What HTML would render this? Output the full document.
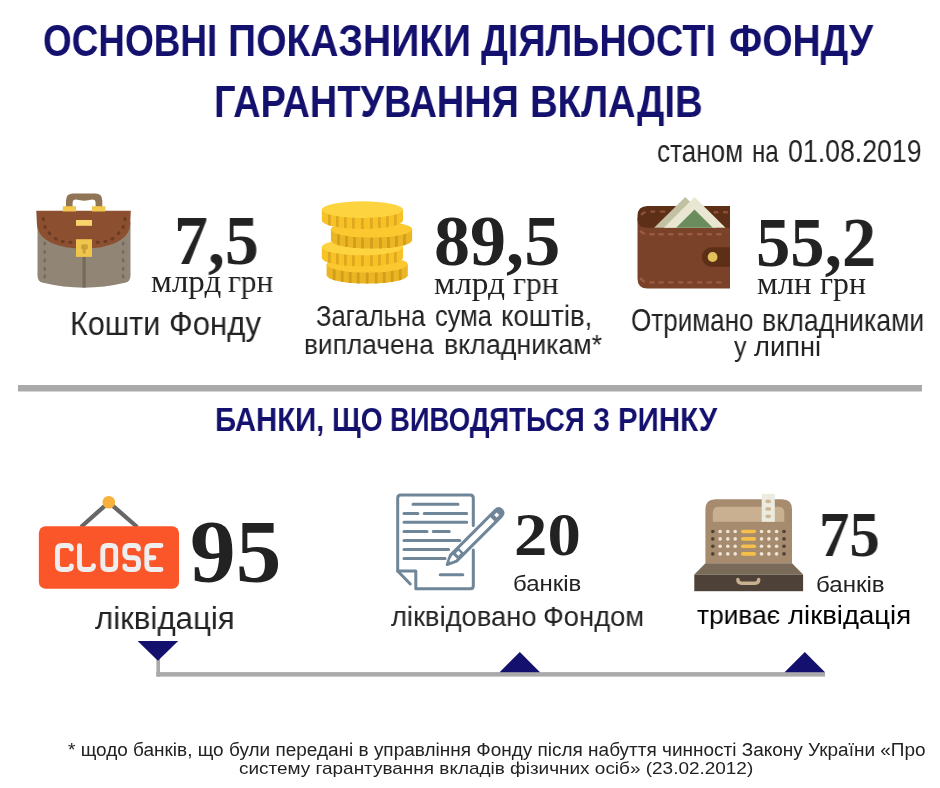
<!DOCTYPE html><html><head><meta charset="utf-8"><style>html,body{margin:0;padding:0;background:#fff;width:940px;height:788px;overflow:hidden;position:relative}.t{position:absolute;white-space:nowrap;line-height:1;transform-origin:0 0;will-change:transform}svg.ic{position:absolute;left:0;top:0}</style></head><body><svg class="ic" width="940" height="788" viewBox="0 0 940 788">
<rect x="18" y="385" width="904" height="6.5" fill="#aaaaaa"/>
<g>
<path fill="#8f7455" fill-rule="evenodd" d="M66,207 V200.5 Q66,193.4 73,193.4 H95.3 Q102.3,193.4 102.3,200.5 V207 Z M72.6,207 V203 Q72.6,199.6 76,199.6 Q84.2,201.8 92.2,199.6 Q95.6,199.6 95.6,203 V207 Z"/>
<path fill="#918576" d="M37.5,222 V276 Q37.5,281.5 43,282.8 Q84,292.5 125,282.8 Q130.5,281.5 130.5,276 V222 Z"/>
<path fill="#8c5030" d="M36.3,210.8 H130.8 L130.2,224 C129.5,241 108,248.6 83.5,248.6 C59,248.6 37.5,241 36.9,224 Z"/>
<ellipse cx="43.3" cy="219.2" rx="2.1" ry="1.5" transform="rotate(90 43.3 219.2)" fill="#6b3a22"/>
<ellipse cx="45.1" cy="226.9" rx="2.1" ry="1.5" transform="rotate(70 45.1 226.9)" fill="#6b3a22"/>
<ellipse cx="49.5" cy="233.2" rx="2.1" ry="1.5" transform="rotate(50 49.5 233.2)" fill="#6b3a22"/>
<ellipse cx="55.8" cy="238.7" rx="2.1" ry="1.5" transform="rotate(35 55.8 238.7)" fill="#6b3a22"/>
<ellipse cx="62.8" cy="241.5" rx="2.1" ry="1.5" transform="rotate(15 62.8 241.5)" fill="#6b3a22"/>
<ellipse cx="70.5" cy="242.2" rx="2.1" ry="1.5" transform="rotate(0 70.5 242.2)" fill="#6b3a22"/>
<ellipse cx="97.7" cy="242.2" rx="2.1" ry="1.5" transform="rotate(0 97.7 242.2)" fill="#6b3a22"/>
<ellipse cx="105.4" cy="241.5" rx="2.1" ry="1.5" transform="rotate(-15 105.4 241.5)" fill="#6b3a22"/>
<ellipse cx="112.4" cy="238.7" rx="2.1" ry="1.5" transform="rotate(-35 112.4 238.7)" fill="#6b3a22"/>
<ellipse cx="118.6" cy="233.2" rx="2.1" ry="1.5" transform="rotate(-50 118.6 233.2)" fill="#6b3a22"/>
<ellipse cx="123.2" cy="226.9" rx="2.1" ry="1.5" transform="rotate(-70 123.2 226.9)" fill="#6b3a22"/>
<ellipse cx="124.9" cy="219.2" rx="2.1" ry="1.5" transform="rotate(-90 124.9 219.2)" fill="#6b3a22"/>
<ellipse cx="44.7" cy="243.6" rx="1.4" ry="2.1" fill="#776b5f"/>
<ellipse cx="123.2" cy="243.6" rx="1.4" ry="2.1" fill="#776b5f"/>
<ellipse cx="44.7" cy="252" rx="1.4" ry="2.1" fill="#776b5f"/>
<ellipse cx="123.2" cy="252" rx="1.4" ry="2.1" fill="#776b5f"/>
<ellipse cx="44.7" cy="260.4" rx="1.4" ry="2.1" fill="#776b5f"/>
<ellipse cx="123.2" cy="260.4" rx="1.4" ry="2.1" fill="#776b5f"/>
<ellipse cx="44.7" cy="268.8" rx="1.4" ry="2.1" fill="#776b5f"/>
<ellipse cx="123.2" cy="268.8" rx="1.4" ry="2.1" fill="#776b5f"/>
<ellipse cx="44.7" cy="276.4" rx="1.4" ry="2.1" fill="#776b5f"/>
<ellipse cx="123.2" cy="276.4" rx="1.4" ry="2.1" fill="#776b5f"/>
<rect x="62.8" y="206.2" width="13.2" height="5.3" fill="#f3c74e"/>
<rect x="92" y="206.2" width="13.4" height="5.3" fill="#f3c74e"/>
<rect x="76" y="220" width="16" height="5.8" fill="#fad36a"/>
<rect x="82.5" y="256" width="3.2" height="31.4" fill="#766a5e"/>
<rect x="76" y="239.2" width="16" height="17.7" fill="#efc54c"/>
<path fill="#c9a13b" d="M81,246 Q81,244.3 82.7,244.3 H86.2 Q87.9,244.3 87.9,246 V248.5 L85.6,250 V253.4 H82.8 V250 L81,248.5 Z"/>
</g>
<g>
<clipPath id="cb4"><path d="M326.59999999999997,264.3 V275.3 A40.6,8.3 0 0 0 407.8,275.3 V264.3 Z"/></clipPath><path d="M326.59999999999997,264.3 V275.3 A40.6,8.3 0 0 0 407.8,275.3 V264.3 Z" fill="#ecb524"/><g clip-path="url(#cb4)" fill="#d19d1d"><rect x="332.84999999999997" y="264.3" width="2.7" height="21.3"/><rect x="340.84999999999997" y="264.3" width="2.7" height="21.3"/><rect x="348.84999999999997" y="264.3" width="2.7" height="21.3"/><rect x="356.84999999999997" y="264.3" width="2.7" height="21.3"/><rect x="365.84999999999997" y="264.3" width="2.7" height="21.3"/><rect x="374.84999999999997" y="264.3" width="2.7" height="21.3"/><rect x="382.84999999999997" y="264.3" width="2.7" height="21.3"/><rect x="390.84999999999997" y="264.3" width="2.7" height="21.3"/><rect x="398.84999999999997" y="264.3" width="2.7" height="21.3"/></g><ellipse cx="367.2" cy="264.3" rx="40.6" ry="8.3" fill="#fbc830"/>
<clipPath id="cb3"><path d="M321.79999999999995,247 V258 A40.6,8.3 0 0 0 403.0,258 V247 Z"/></clipPath><path d="M321.79999999999995,247 V258 A40.6,8.3 0 0 0 403.0,258 V247 Z" fill="#f7c226"/><g clip-path="url(#cb3)" fill="#dea81f"><rect x="328.04999999999995" y="247" width="2.7" height="21.3"/><rect x="336.04999999999995" y="247" width="2.7" height="21.3"/><rect x="344.04999999999995" y="247" width="2.7" height="21.3"/><rect x="352.04999999999995" y="247" width="2.7" height="21.3"/><rect x="361.04999999999995" y="247" width="2.7" height="21.3"/><rect x="370.04999999999995" y="247" width="2.7" height="21.3"/><rect x="378.04999999999995" y="247" width="2.7" height="21.3"/><rect x="386.04999999999995" y="247" width="2.7" height="21.3"/><rect x="394.04999999999995" y="247" width="2.7" height="21.3"/></g><ellipse cx="362.4" cy="247" rx="40.6" ry="8.3" fill="#fdd440"/>
<clipPath id="cb2"><path d="M330.9,229.3 V240.3 A40.6,8.3 0 0 0 412.1,240.3 V229.3 Z"/></clipPath><path d="M330.9,229.3 V240.3 A40.6,8.3 0 0 0 412.1,240.3 V229.3 Z" fill="#ecb524"/><g clip-path="url(#cb2)" fill="#d19d1d"><rect x="337.15" y="229.3" width="2.7" height="21.3"/><rect x="345.15" y="229.3" width="2.7" height="21.3"/><rect x="353.15" y="229.3" width="2.7" height="21.3"/><rect x="361.15" y="229.3" width="2.7" height="21.3"/><rect x="370.15" y="229.3" width="2.7" height="21.3"/><rect x="379.15" y="229.3" width="2.7" height="21.3"/><rect x="387.15" y="229.3" width="2.7" height="21.3"/><rect x="395.15" y="229.3" width="2.7" height="21.3"/><rect x="403.15" y="229.3" width="2.7" height="21.3"/></g><ellipse cx="371.5" cy="229.3" rx="40.6" ry="8.3" fill="#fbc830"/>
<clipPath id="cb1"><path d="M321.79999999999995,209.6 V220.6 A40.6,8.3 0 0 0 403.0,220.6 V209.6 Z"/></clipPath><path d="M321.79999999999995,209.6 V220.6 A40.6,8.3 0 0 0 403.0,220.6 V209.6 Z" fill="#f7c226"/><g clip-path="url(#cb1)" fill="#dea81f"><rect x="328.04999999999995" y="209.6" width="2.7" height="21.3"/><rect x="336.04999999999995" y="209.6" width="2.7" height="21.3"/><rect x="344.04999999999995" y="209.6" width="2.7" height="21.3"/><rect x="352.04999999999995" y="209.6" width="2.7" height="21.3"/><rect x="361.04999999999995" y="209.6" width="2.7" height="21.3"/><rect x="370.04999999999995" y="209.6" width="2.7" height="21.3"/><rect x="378.04999999999995" y="209.6" width="2.7" height="21.3"/><rect x="386.04999999999995" y="209.6" width="2.7" height="21.3"/><rect x="394.04999999999995" y="209.6" width="2.7" height="21.3"/></g><ellipse cx="362.4" cy="209.6" rx="40.6" ry="8.3" fill="#fdd440"/>
</g>
<g>
<path fill="#7a4229" d="M637.5,218 H730 V288.6 H647.5 Q637.5,288.6 637.5,278.6 Z"/>
<path fill="#5e2f17" d="M647.5,206.1 H730 V227.8 H646.5 Q637.5,227.8 637.5,218.8 V216.1 Q637.5,206.1 647.5,206.1 Z"/>
<g stroke="#8e5038" stroke-width="2.4" stroke-linecap="round" fill="none">
<path d="M641.8,214.2 L644.6,212.2 M651.3,211.6 H654 M660.8,211.6 H664.2 M714.6,212.2 H717.4 M724,212.2 H727"/>
</g>
<path fill="#c3c1a4" d="M685.3,197 L716.1,227.8 H654.1 Z"/>
<path fill="#e9e7d2" d="M694.5,197 L725.5,227.8 H663.9 Z"/>
<path fill="#6b8d5d" d="M694.5,209.5 L712.8,227.8 H676.2 Z"/>
<g stroke="#9b5b41" stroke-width="2.4" stroke-linecap="round" fill="none">
<path d="M640.8,231.4 L643.8,233.4 M650.3,234.3 H653.5 M659.5,234.3 H662.7 M669.3,234.3 H672.5 M679.1,234.3 H682.3000000000001 M688.3,234.3 H691.5 M698.1,234.3 H701.3000000000001 M707.7,234.3 H710.9000000000001 M717.3,234.3 H720.5 "/>
<path d="M640.7,278.8 L643.8,281.2 M650.3,282.4 H653.5 M659.5,282.4 H662.7 M669.3,282.4 H672.5 M679.1,282.4 H682.3000000000001 M688.3,282.4 H691.5 M698.1,282.4 H701.3000000000001 M707.7,282.4 H710.9000000000001 M717.3,282.4 H720.5 "/>
</g>
<path fill="#5e2f17" d="M711.7,247.2 H730 V266.8 H711.7 A9.8,9.8 0 0 1 711.7,247.2 Z"/>
<circle cx="712.6" cy="257" r="4.9" fill="#e2c15c"/>
</g>
<g>
<path d="M81,527 L108.8,502.3 L137.2,527" stroke="#676767" stroke-width="4.3" fill="none"/>
<circle cx="108.8" cy="502.3" r="6.3" fill="#f8b13a"/>
<rect x="38.85" y="526.3" width="140.15" height="62.4" rx="6.8" fill="#fa5629"/>
<g stroke="#efeeee" stroke-width="4.9" stroke-linecap="round" stroke-linejoin="round" fill="none">
<path d="M71.4,549 Q71.4,545.5 67,545.5 H61.9 Q57.45,545.5 57.45,550 V565 Q57.45,569.5 61.9,569.5 H67 Q71.4,569.5 71.4,566"/>
<path d="M79.5,545.7 V565 Q79.5,569.5 84,569.5 H89 Q93.5,569.5 93.5,565.8"/>
<path d="M107.3,545.5 H111.2 Q115.7,545.5 115.7,550 V565 Q115.7,569.5 111.2,569.5 H107.3 Q102.8,569.5 102.8,565 V550 Q102.8,545.5 107.3,545.5 Z"/>
<path d="M138.5,549 Q138.5,545.5 134,545.5 H129.3 Q124.8,545.5 124.8,550 V553.3 Q124.8,557.8 129.3,557.8 H134 Q138.5,557.8 138.5,562.3 V565 Q138.5,569.5 134,569.5 H129.3 Q124.8,569.5 124.8,566"/>
<path d="M161,545.5 H151.3 Q146.8,545.5 146.8,550 V565 Q146.8,569.5 151.3,569.5 H161 M146.8,557.8 H154"/>
</g>
</g>
<g stroke="#6f8598" stroke-width="3" stroke-linecap="round" stroke-linejoin="round" fill="none">
<path d="M473.3,525.5 V498 Q473.3,495 470.3,495 H400.7 Q397.7,495 397.7,498 V571 H415.8 V588.7 H470.3 Q473.3,588.7 473.3,585.7 V550"/>
<path d="M397.7,571 L410.3,584"/>
<path d="M413,504.3 H458 M404,513.4 H417.9 M424.2,513.4 H466.7 M404,522.2 H466.7 M404,531.5 H427 M433.3,531.5 H449.3 M404,540.6 H459.8 M404,549.4 H448.6 M404,558.5 H445.1 M440.2,574.8 H462.8 "/>
</g>
<g transform="translate(447.2,564.5) rotate(-45)" stroke="#6f8598" stroke-width="3" stroke-linejoin="round" fill="none">
<path d="M0,0 L9,-4.3 H72 Q77,-4.3 77,0 Q77,4.3 72,4.3 H9 Z"/>
</g>
<g transform="translate(447.2,564.5) rotate(-45)" fill="#6f8598">
<rect x="11" y="-4.3" width="9" height="8.6"/>
<path d="M64,-4.3 H72 Q77.5,-4.3 77.5,0 Q77.5,4.3 72,4.3 H64 Z"/>
<rect x="14" y="-1.8" width="3.6" height="3.6" fill="#fff"/>
<rect x="68.2" y="-1.8" width="3.6" height="3.6" fill="#fff"/>
<path d="M3.5,-0.6 L7.5,-2.2 V2.2 Z" fill="#fff"/>
</g>
<g>
<path fill="#a68b6e" d="M705.4,563.3 V509.2 Q705.4,499.2 715.4,499.2 H782 Q792,499.2 792,509.2 V563.3 Z"/>
<path fill="#c8b090" d="M712.8,521.8 V512.8 Q712.8,506.8 718.8,506.8 H778.3 Q784.3,506.8 784.3,512.8 V521.8 Z"/>
<rect x="761.7" y="493.9" width="13.1" height="27.9" fill="#ecebe0"/>
<ellipse cx="768.2" cy="501.3" rx="2.9" ry="1.9" fill="#cdb896"/>
<ellipse cx="768.2" cy="508.9" rx="2.9" ry="1.9" fill="#cdb896"/>
<ellipse cx="768.2" cy="516.3" rx="2.9" ry="1.9" fill="#cdb896"/>
<circle cx="712.8" cy="531.5" r="1.8" fill="#4e4238"/>
<circle cx="784" cy="531.5" r="1.8" fill="#4e4238"/>
<circle cx="720.1" cy="531.5" r="1.8" fill="#efe6d6"/>
<circle cx="727.8" cy="531.5" r="1.8" fill="#efe6d6"/>
<circle cx="735.2" cy="531.5" r="1.8" fill="#efe6d6"/>
<circle cx="761.5" cy="531.5" r="1.8" fill="#efe6d6"/>
<circle cx="768.9" cy="531.5" r="1.8" fill="#efe6d6"/>
<circle cx="776.6" cy="531.5" r="1.8" fill="#efe6d6"/>
<path d="M742.8,531.5 H754.3" stroke="#f5c04a" stroke-width="3.6" stroke-linecap="round"/>
<circle cx="712.8" cy="538.9" r="1.8" fill="#4e4238"/>
<circle cx="784" cy="538.9" r="1.8" fill="#4e4238"/>
<circle cx="720.1" cy="538.9" r="1.8" fill="#efe6d6"/>
<circle cx="727.8" cy="538.9" r="1.8" fill="#efe6d6"/>
<circle cx="735.2" cy="538.9" r="1.8" fill="#efe6d6"/>
<circle cx="761.5" cy="538.9" r="1.8" fill="#efe6d6"/>
<circle cx="768.9" cy="538.9" r="1.8" fill="#efe6d6"/>
<circle cx="776.6" cy="538.9" r="1.8" fill="#efe6d6"/>
<path d="M742.8,538.9 H754.3" stroke="#f5c04a" stroke-width="3.6" stroke-linecap="round"/>
<circle cx="712.8" cy="546.3" r="1.8" fill="#4e4238"/>
<circle cx="784" cy="546.3" r="1.8" fill="#4e4238"/>
<circle cx="720.1" cy="546.3" r="1.8" fill="#efe6d6"/>
<circle cx="727.8" cy="546.3" r="1.8" fill="#efe6d6"/>
<circle cx="735.2" cy="546.3" r="1.8" fill="#efe6d6"/>
<circle cx="761.5" cy="546.3" r="1.8" fill="#efe6d6"/>
<circle cx="768.9" cy="546.3" r="1.8" fill="#efe6d6"/>
<circle cx="776.6" cy="546.3" r="1.8" fill="#efe6d6"/>
<path d="M742.8,546.3 H754.3" stroke="#f5c04a" stroke-width="3.6" stroke-linecap="round"/>
<circle cx="712.8" cy="553.9" r="1.8" fill="#4e4238"/>
<circle cx="784" cy="553.9" r="1.8" fill="#4e4238"/>
<circle cx="720.1" cy="553.9" r="1.8" fill="#efe6d6"/>
<circle cx="727.8" cy="553.9" r="1.8" fill="#efe6d6"/>
<circle cx="735.2" cy="553.9" r="1.8" fill="#efe6d6"/>
<circle cx="761.5" cy="553.9" r="1.8" fill="#efe6d6"/>
<circle cx="768.9" cy="553.9" r="1.8" fill="#efe6d6"/>
<circle cx="776.6" cy="553.9" r="1.8" fill="#efe6d6"/>
<path d="M742.8,553.9 H754.3" stroke="#f5c04a" stroke-width="3.6" stroke-linecap="round"/>
<path fill="#7a6a58" d="M705.4,563.3 H792 L803.1,574.5 H694.3 Z"/>
<rect x="694.3" y="574.5" width="108.8" height="16.7" fill="#4e4238"/>
<path d="M737.9,579.6 Q737.9,583.2 741.5,583.2 H755.1 Q758.7,583.2 758.7,579.6" stroke="#c8b090" stroke-width="3.5" stroke-linecap="round" fill="none"/>
</g>
<rect x="156.4" y="658" width="3.6" height="18.6" fill="#aaaaaa"/>
<rect x="156.4" y="672.1" width="668.6" height="4.5" fill="#aaaaaa"/>
<path d="M137.6,640.9 H178.2 L157.9,660.8 Z" fill="#14116e"/>
<path d="M499.6,672.2 L519.8,652.1 L540,672.2 Z" fill="#14116e"/>
<path d="M784.6,672.2 L804.8,652.1 L825,672.2 Z" fill="#14116e"/>
</svg><div class="t" style="left:42.66px;top:18.39px;font-family:'Liberation Sans',sans-serif;font-weight:bold;font-size:44.74px;color:#14116e;transform:scaleX(0.8248)">ОСНОВНІ</div><div class="t" style="left:228.25px;top:18.39px;font-family:'Liberation Sans',sans-serif;font-weight:bold;font-size:44.74px;color:#14116e;transform:scaleX(0.8731)">ПОКАЗНИКИ</div><div class="t" style="left:481.42px;top:18.39px;font-family:'Liberation Sans',sans-serif;font-weight:bold;font-size:44.74px;color:#14116e;transform:scaleX(0.8452)">ДІЯЛЬНОСТІ</div><div class="t" style="left:728.78px;top:18.39px;font-family:'Liberation Sans',sans-serif;font-weight:bold;font-size:44.74px;color:#14116e;transform:scaleX(0.8701)">ФОНДУ</div><div class="t" style="left:213.52px;top:80.56px;font-family:'Liberation Sans',sans-serif;font-weight:bold;font-size:43.44px;color:#14116e;transform:scaleX(0.8729)">ГАРАНТУВАННЯ</div><div class="t" style="left:529.54px;top:80.56px;font-family:'Liberation Sans',sans-serif;font-weight:bold;font-size:43.44px;color:#14116e;transform:scaleX(0.8827)">ВКЛАДІВ</div><div class="t" style="left:657.17px;top:136.76px;font-family:'Liberation Sans',sans-serif;font-weight:normal;font-size:30.92px;color:#222;transform:scaleX(0.8444)">станом</div><div class="t" style="left:751.70px;top:136.76px;font-family:'Liberation Sans',sans-serif;font-weight:normal;font-size:30.92px;color:#222;transform:scaleX(0.7763)">на</div><div class="t" style="left:788.39px;top:136.76px;font-family:'Liberation Sans',sans-serif;font-weight:normal;font-size:30.92px;color:#222;transform:scaleX(0.8638)">01.08.2019</div><div class="t" style="left:174.20px;top:206.98px;font-family:'Liberation Serif',sans-serif;font-weight:bold;font-size:68.97px;color:#222;transform:scaleX(0.9835)">7,5</div><div class="t" style="left:150.52px;top:264.86px;font-family:'Liberation Serif',sans-serif;font-weight:normal;font-size:32.37px;color:#222;transform:scaleX(1.0196)">млрд</div><div class="t" style="left:228.31px;top:264.86px;font-family:'Liberation Serif',sans-serif;font-weight:normal;font-size:32.37px;color:#222;transform:scaleX(0.9672)">грн</div><div class="t" style="left:69.76px;top:308.19px;font-family:'Liberation Sans',sans-serif;font-weight:normal;font-size:32.51px;color:#222;transform:scaleX(0.9390)">Кошти</div><div class="t" style="left:168.56px;top:308.19px;font-family:'Liberation Sans',sans-serif;font-weight:normal;font-size:32.51px;color:#222;transform:scaleX(0.9586)">Фонду</div><div class="t" style="left:434.49px;top:204.52px;font-family:'Liberation Serif',sans-serif;font-weight:bold;font-size:71.41px;color:#222;transform:scaleX(1.0098)">89,5</div><div class="t" style="left:433.54px;top:266.86px;font-family:'Liberation Serif',sans-serif;font-weight:normal;font-size:32.24px;color:#222;transform:scaleX(1.0373)">млрд</div><div class="t" style="left:512.97px;top:266.86px;font-family:'Liberation Serif',sans-serif;font-weight:normal;font-size:32.24px;color:#222;transform:scaleX(0.9806)">грн</div><div class="t" style="left:316.21px;top:300.88px;font-family:'Liberation Sans',sans-serif;font-weight:normal;font-size:30.20px;color:#222;transform:scaleX(0.8473)">Загальна</div><div class="t" style="left:435.22px;top:300.88px;font-family:'Liberation Sans',sans-serif;font-weight:normal;font-size:30.20px;color:#222;transform:scaleX(0.8451)">сума</div><div class="t" style="left:500.65px;top:300.88px;font-family:'Liberation Sans',sans-serif;font-weight:normal;font-size:30.20px;color:#222;transform:scaleX(0.9186)">коштів,</div><div class="t" style="left:304.05px;top:331.38px;font-family:'Liberation Sans',sans-serif;font-weight:normal;font-size:27.93px;color:#222;transform:scaleX(0.9421)">виплачена</div><div class="t" style="left:443.67px;top:331.38px;font-family:'Liberation Sans',sans-serif;font-weight:normal;font-size:27.93px;color:#222;transform:scaleX(0.9587)">вкладникам*</div><div class="t" style="left:755.60px;top:208.52px;font-family:'Liberation Serif',sans-serif;font-weight:bold;font-size:68.74px;color:#222;transform:scaleX(0.9986)">55,2</div><div class="t" style="left:757.28px;top:268.57px;font-family:'Liberation Serif',sans-serif;font-weight:normal;font-size:30.50px;color:#222;transform:scaleX(1.0734)">млн</div><div class="t" style="left:819.73px;top:268.57px;font-family:'Liberation Serif',sans-serif;font-weight:normal;font-size:30.50px;color:#222;transform:scaleX(1.0432)">грн</div><div class="t" style="left:631.34px;top:304.66px;font-family:'Liberation Sans',sans-serif;font-weight:normal;font-size:30.52px;color:#222;transform:scaleX(0.8535)">Отримано</div><div class="t" style="left:761.73px;top:304.66px;font-family:'Liberation Sans',sans-serif;font-weight:normal;font-size:30.52px;color:#222;transform:scaleX(0.8755)">вкладниками</div><div class="t" style="left:734.21px;top:333.77px;font-family:'Liberation Sans',sans-serif;font-weight:normal;font-size:26.80px;color:#222;transform:scaleX(0.9367)">у</div><div class="t" style="left:753.84px;top:333.77px;font-family:'Liberation Sans',sans-serif;font-weight:normal;font-size:26.80px;color:#222;transform:scaleX(1.0186)">липні</div><div class="t" style="left:214.53px;top:403.31px;font-family:'Liberation Sans',sans-serif;font-weight:bold;font-size:33.92px;color:#14116e;transform:scaleX(0.8642)">БАНКИ,</div><div class="t" style="left:331.67px;top:403.31px;font-family:'Liberation Sans',sans-serif;font-weight:bold;font-size:33.92px;color:#14116e;transform:scaleX(0.8313)">ЩО</div><div class="t" style="left:390.40px;top:403.31px;font-family:'Liberation Sans',sans-serif;font-weight:bold;font-size:33.92px;color:#14116e;transform:scaleX(0.8105)">ВИВОДЯТЬСЯ</div><div class="t" style="left:592.99px;top:403.31px;font-family:'Liberation Sans',sans-serif;font-weight:bold;font-size:33.92px;color:#14116e;transform:scaleX(0.8024)">З</div><div class="t" style="left:617.61px;top:403.31px;font-family:'Liberation Sans',sans-serif;font-weight:bold;font-size:33.92px;color:#14116e;transform:scaleX(0.8694)">РИНКУ</div><div class="t" style="left:190.30px;top:506.51px;font-family:'Liberation Serif',sans-serif;font-weight:bold;font-size:88.29px;color:#222;transform:scaleX(1.0337)">95</div><div class="t" style="left:95.46px;top:601.63px;font-family:'Liberation Sans',sans-serif;font-weight:normal;font-size:32.03px;color:#222;transform:scaleX(0.9758)">ліквідація</div><div class="t" style="left:513.87px;top:502.50px;font-family:'Liberation Serif',sans-serif;font-weight:bold;font-size:62.30px;color:#222;transform:scaleX(1.0716)">20</div><div class="t" style="left:513.43px;top:572.86px;font-family:'Liberation Sans',sans-serif;font-weight:normal;font-size:21.19px;color:#222;transform:scaleX(1.1320)">банків</div><div class="t" style="left:390.84px;top:601.60px;font-family:'Liberation Sans',sans-serif;font-weight:normal;font-size:28.45px;color:#222;transform:scaleX(0.9620)">ліквідовано</div><div class="t" style="left:543.35px;top:601.60px;font-family:'Liberation Sans',sans-serif;font-weight:normal;font-size:28.45px;color:#222;transform:scaleX(0.9620)">Фондом</div><div class="t" style="left:819.10px;top:504.47px;font-family:'Liberation Serif',sans-serif;font-weight:bold;font-size:62.44px;color:#222;transform:scaleX(0.9731)">75</div><div class="t" style="left:815.80px;top:573.60px;font-family:'Liberation Sans',sans-serif;font-weight:normal;font-size:21.19px;color:#222;transform:scaleX(1.1373)">банків</div><div class="t" style="left:697.40px;top:602.36px;font-family:'Liberation Sans',sans-serif;font-weight:normal;font-size:26.64px;color:#000;transform:scaleX(0.9883)">триває</div><div class="t" style="left:788.45px;top:602.36px;font-family:'Liberation Sans',sans-serif;font-weight:normal;font-size:26.64px;color:#000;transform:scaleX(1.0336)">ліквідація</div><div class="t" style="left:68.48px;top:741.60px;font-family:'Liberation Sans',sans-serif;font-weight:normal;font-size:17.65px;color:#222;transform:scaleX(1.0758)">* щодо банків, що були передані в управління Фонду після набуття чинності Закону України «Про</div><div class="t" style="left:239.46px;top:759.63px;font-family:'Liberation Sans',sans-serif;font-weight:normal;font-size:17.35px;color:#222;transform:scaleX(1.0927)">систему гарантування вкладів фізичних осіб» (23.02.2012)</div></body></html>
